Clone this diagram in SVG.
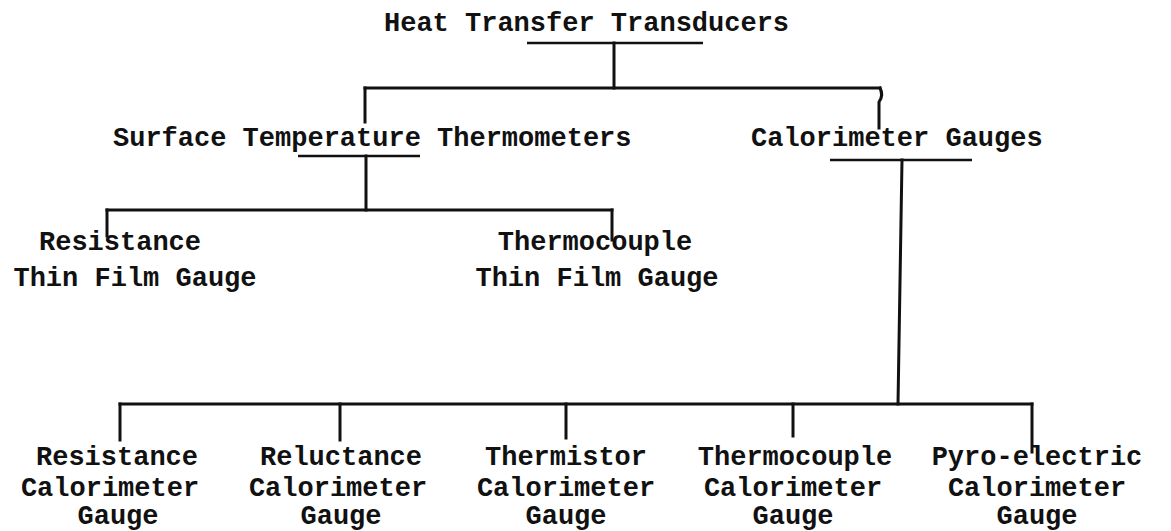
<svg xmlns="http://www.w3.org/2000/svg" width="1171" height="531" viewBox="0 0 1171 531">
<style>
text{font-family:"Liberation Mono","Courier New",monospace;font-size:27px;font-weight:bold;fill:#111}
.l{stroke:#111;stroke-width:3;fill:none;stroke-linecap:square}
.u{stroke:#111;stroke-width:2.5;fill:none}
</style>
<rect width="1171" height="531" fill="#fff"/>
<g id="connectors">
<line class="u" x1="527" y1="43" x2="703" y2="43"/>
<line class="l" x1="614" y1="43" x2="614" y2="88"/>
<line class="l" x1="365" y1="88" x2="880" y2="88"/>
<line class="l" x1="365" y1="88" x2="365" y2="122"/>
<path class="l" d="M880 88 Q884 95 879 102 L879 128"/>
<line class="u" x1="298" y1="156" x2="420" y2="156"/>
<line class="l" x1="366" y1="156" x2="366" y2="210"/>
<line class="l" x1="107" y1="210" x2="612" y2="210"/>
<line class="l" x1="107" y1="210" x2="107" y2="236"/>
<line class="l" x1="612" y1="210" x2="612" y2="240"/>
<line class="u" x1="830" y1="160" x2="972" y2="160"/>
<line class="l" x1="902" y1="160" x2="898" y2="404"/>
<line class="l" x1="120" y1="404" x2="1032" y2="404"/>
<line class="l" x1="120" y1="404" x2="120" y2="440"/>
<line class="l" x1="340" y1="404" x2="340" y2="440"/>
<line class="l" x1="566" y1="404" x2="566" y2="438"/>
<line class="l" x1="793" y1="404" x2="793" y2="436"/>
<line class="l" x1="1032" y1="404" x2="1032" y2="452"/>
</g>
<g id="n-root"><text x="384" y="31">Heat Transfer Transducers</text></g>
<g id="n-surface"><text x="113" y="146">Surface Temperature Thermometers</text></g>
<g id="n-calorimeter"><text x="751" y="146">Calorimeter Gauges</text></g>
<g id="n-res-thin" text-anchor="middle"><text x="120" y="250">Resistance</text><text x="135" y="286">Thin Film Gauge</text></g>
<g id="n-tc-thin" text-anchor="middle"><text x="595" y="250">Thermocouple</text><text x="597" y="286">Thin Film Gauge</text></g>
<g id="n-res-cal" text-anchor="middle"><text x="117" y="465">Resistance</text><text x="110" y="496">Calorimeter</text><text x="118" y="524">Gauge</text></g>
<g id="n-rel-cal" text-anchor="middle"><text x="341" y="465">Reluctance</text><text x="338" y="496">Calorimeter</text><text x="341" y="524">Gauge</text></g>
<g id="n-thm-cal" text-anchor="middle"><text x="566" y="465">Thermistor</text><text x="566" y="496">Calorimeter</text><text x="566" y="524">Gauge</text></g>
<g id="n-tc-cal" text-anchor="middle"><text x="795" y="465">Thermocouple</text><text x="793" y="496">Calorimeter</text><text x="793" y="524">Gauge</text></g>
<g id="n-pyro-cal" text-anchor="middle"><text x="1037" y="465">Pyro-electric</text><text x="1037" y="496">Calorimeter</text><text x="1037" y="524">Gauge</text></g>
</svg>
